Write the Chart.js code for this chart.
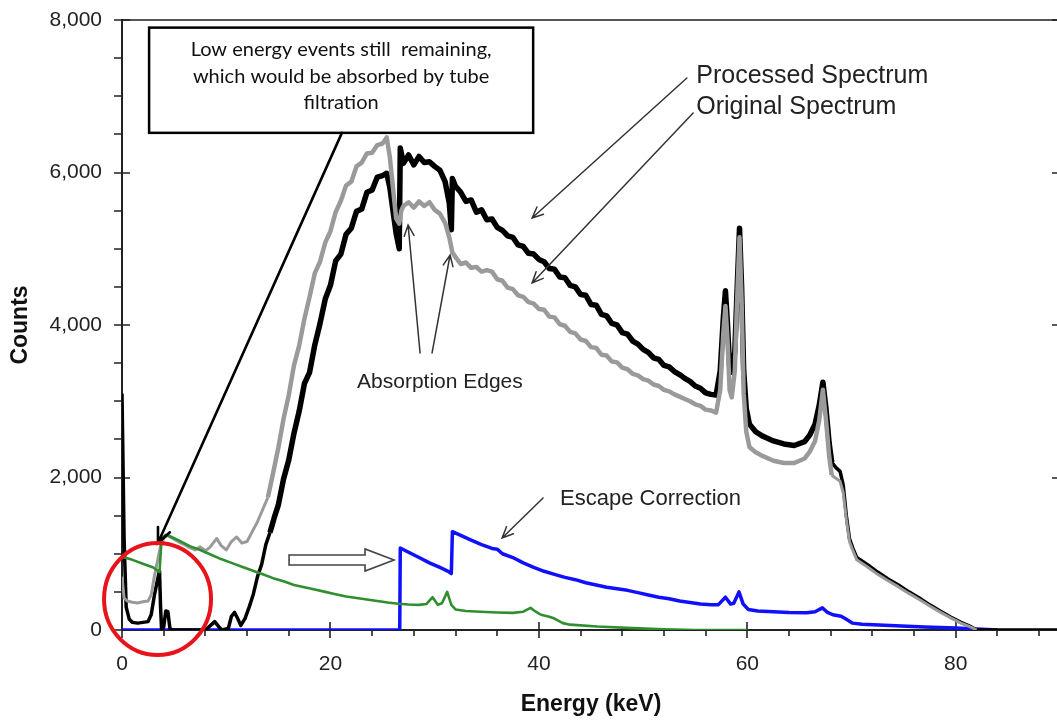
<!DOCTYPE html>
<html>
<head>
<meta charset="utf-8">
<title>Energy spectrum</title>
<script src="https://cdn.jsdelivr.net/npm/chart.js@4.4.1/dist/chart.umd.min.js"></script>
<style>
  html, body { margin: 0; padding: 0; background: #fff; overflow: hidden; }
  canvas { display: block; }
</style>
</head>
<body>
<canvas id="spectrumChart" width="1070" height="721"></canvas>
<script>
// --- SPECTRUM DATA (energy in keV, counts per channel) ---
const processedKeV = [0, 0.2, 0.4, 0.7, 1.0, 1.5, 2.0, 2.5, 2.8, 3.1, 3.4, 3.6, 3.7, 3.8, 4.0, 4.2, 4.4, 4.6, 4.8, 8.0, 8.5, 8.9, 9.3, 9.6, 10.2, 10.5, 10.8, 11.1, 11.4, 11.8, 12.2, 12.6, 13.0, 13.4, 13.8, 14.2, 14.6, 15.0, 15.5, 16.0, 16.5, 17.0, 17.5, 18.0, 18.5, 19.0, 19.5, 20.0, 20.5, 21.0, 21.5, 22.0, 22.5, 23.0, 23.5, 24.0, 24.5, 25.0, 25.4, 25.7, 26.0, 26.3, 26.6, 26.7, 27.0, 27.5, 28.0, 28.5, 29.0, 29.5, 30.0, 30.5, 31.0, 31.4, 31.6, 31.7, 32.0, 32.5, 33.0, 33.5, 34.0, 34.5, 35.0, 35.5, 36.0, 36.5, 37.0, 37.5, 38.0, 38.5, 39.0, 39.5, 40.0, 40.5, 41.0, 41.5, 42.0, 42.5, 43.0, 43.5, 44.0, 44.5, 45.0, 45.5, 46.0, 46.5, 47.0, 47.5, 48.0, 48.5, 49.0, 49.5, 50.0, 50.5, 51.0, 51.5, 52.0, 52.5, 53.0, 53.5, 54.0, 54.5, 55.0, 55.5, 56.0, 56.5, 57.0, 57.4, 57.7, 57.9, 58.1, 58.3, 58.5, 58.8, 59.0, 59.25, 59.45, 59.65, 59.9, 60.2, 60.8, 61.5, 62.5, 63.5, 64.5, 65.5, 66.0, 66.5, 66.9, 67.25, 67.55, 67.85, 68.1, 68.5, 68.9, 69.2, 69.5, 69.8, 70.1, 70.5, 71.5, 72.5, 73.5, 74.5, 75.5, 76.5, 77.5, 78.5, 79.5, 80.5, 81.5, 82.0, 90];
const processedCounts = [3100, 1200, 300, 140, 100, 90, 100, 110, 200, 450, 650, 780, 300, 0, 40, 250, 240, 20, 0, 0, 60, 110, 40, 0, 20, 180, 230, 150, 60, 150, 300, 470, 700, 860, 1120, 1280, 1470, 1640, 1980, 2230, 2580, 2870, 3230, 3380, 3740, 4020, 4340, 4520, 4840, 4930, 5190, 5270, 5490, 5520, 5740, 5770, 5940, 5960, 5990, 5800, 5500, 5200, 5000, 6320, 6120, 6230, 6100, 6210, 6130, 6140, 6080, 6030, 5880, 5600, 5250, 5920, 5820, 5740, 5620, 5640, 5480, 5510, 5380, 5390, 5280, 5240, 5170, 5150, 5050, 5030, 4940, 4930, 4860, 4830, 4740, 4730, 4630, 4620, 4520, 4500, 4400, 4390, 4270, 4260, 4140, 4120, 4020, 4000, 3900, 3880, 3790, 3750, 3680, 3640, 3570, 3550, 3470, 3450, 3390, 3350, 3300, 3260, 3200, 3170, 3110, 3090, 3080, 3400, 4100, 4450, 4000, 3450, 3380, 3650, 4400, 5270, 4500, 3400, 2900, 2700, 2600, 2540, 2480, 2440, 2420, 2470, 2560, 2700, 2950, 3250, 2900, 2450, 2200, 2130, 2080, 1900, 1500, 1200, 1080, 950, 860, 760, 670, 590, 500, 420, 330, 250, 170, 100, 40, 0, 0];

const originalKeV = [0, 0.2, 0.5, 1.0, 1.5, 2.0, 2.5, 2.8, 3.1, 3.4, 3.7, 4.0, 4.3, 4.6, 5.0, 5.5, 6.0, 6.5, 7.0, 7.5, 8.0, 8.4, 8.8, 9.1, 9.5, 10.0, 10.5, 11.0, 11.5, 12.0, 12.5, 13.0, 13.5, 14.0, 14.5, 15.0, 15.5, 16.0, 16.5, 17.0, 17.5, 18.0, 18.5, 19.0, 19.5, 20.0, 20.5, 21.0, 21.5, 22.0, 22.5, 23.0, 23.5, 24.0, 24.5, 25.0, 25.4, 25.7, 26.0, 26.3, 26.6, 26.8, 27.0, 27.5, 28.0, 28.5, 29.0, 29.5, 30.0, 30.5, 31.0, 31.4, 31.7, 32.0, 32.5, 33.0, 33.5, 34.0, 34.5, 35.0, 35.5, 36.0, 36.5, 37.0, 37.5, 38.0, 38.5, 39.0, 39.5, 40.0, 40.5, 41.0, 41.5, 42.0, 42.5, 43.0, 43.5, 44.0, 44.5, 45.0, 45.5, 46.0, 46.5, 47.0, 47.5, 48.0, 48.5, 49.0, 49.5, 50.0, 50.5, 51.0, 51.5, 52.0, 52.5, 53.0, 53.5, 54.0, 54.5, 55.0, 55.5, 56.0, 56.5, 57.0, 57.4, 57.7, 57.9, 58.1, 58.3, 58.5, 58.8, 59.0, 59.25, 59.45, 59.65, 59.9, 60.2, 60.8, 61.5, 62.5, 63.5, 64.5, 65.5, 66.0, 66.5, 66.9, 67.25, 67.55, 67.85, 68.1, 68.5, 68.9, 69.2, 69.5, 69.8, 70.1, 70.5, 71.5, 72.5, 73.5, 74.5, 75.5, 76.5, 77.5, 78.5, 79.5, 80.5, 81.5, 82.0];
const originalCounts = [700, 420, 380, 365, 355, 370, 380, 460, 700, 900, 1100, 1200, 1240, 1220, 1190, 1150, 1120, 1080, 1050, 1090, 1040, 1080, 1150, 1200, 1110, 1050, 1160, 1220, 1140, 1160, 1290, 1420, 1580, 1740, 2060, 2390, 2770, 3080, 3470, 3730, 4080, 4370, 4680, 4830, 5080, 5230, 5480, 5630, 5830, 5880, 6080, 6130, 6250, 6260, 6360, 6380, 6460, 6200, 5800, 5400, 5330, 5500, 5560, 5610, 5540, 5620, 5560, 5610, 5510, 5460, 5340, 5150, 4950, 4890, 4800, 4820, 4750, 4760, 4700, 4720, 4700, 4600, 4580, 4490, 4470, 4390, 4370, 4300, 4280, 4210, 4200, 4110, 4100, 4010, 3990, 3910, 3890, 3810, 3790, 3710, 3700, 3610, 3600, 3520, 3510, 3440, 3420, 3360, 3340, 3290, 3270, 3220, 3200, 3150, 3130, 3090, 3060, 3030, 3000, 2960, 2940, 2890, 2880, 2850, 3150, 3900, 4250, 3800, 3150, 3050, 3400, 4250, 5150, 4300, 3100, 2600, 2400, 2330, 2280, 2220, 2190, 2190, 2250, 2340, 2480, 2750, 3150, 2750, 2280, 2030, 1990, 1950, 1800, 1450, 1160, 1050, 920, 830, 730, 645, 565, 480, 400, 315, 235, 160, 90, 35, 0];

const escapeKeV = [0, 26.65, 26.7, 27.5, 28.5, 29.5, 30.5, 31.3, 31.6, 31.7, 32.5, 33.5, 34.5, 35.5, 36.0, 36.5, 37.5, 38.5, 39.5, 40.5, 41.5, 42.5, 43.5, 44.5, 45.5, 46.5, 47.5, 48.5, 49.5, 50.5, 51.5, 52.5, 53.5, 54.5, 55.5, 56.5, 57.2, 57.9, 58.4, 58.7, 59.2, 59.6, 60.1, 61.0, 62.5, 64.0, 65.7, 66.5, 67.2, 67.7, 68.2, 69.0, 69.5, 70.1, 71.0, 73.7, 77.0, 80.0, 83.0, 84.0];
const escapeCounts = [0, 0, 1075, 1020, 950, 880, 820, 770, 740, 1290, 1240, 1180, 1120, 1070, 1060, 1000, 950, 880, 820, 770, 730, 690, 660, 620, 590, 560, 540, 520, 490, 460, 430, 410, 380, 360, 340, 330, 330, 430, 340, 350, 500, 340, 270, 250, 240, 230, 225, 240, 290, 230, 200, 180, 140, 90, 75, 60, 40, 25, 5, 0];

const escapeSourceKeV = [0, 1.0, 2.0, 3.0, 3.6, 3.8, 4.2, 4.6, 5.5, 6.5, 7.5, 8.5, 9.5, 10.5, 11.5, 12.5, 13.5, 14.5, 15.5, 16.5, 17.5, 18.5, 19.5, 20.5, 21.5, 22.5, 23.5, 24.5, 25.5, 26.5, 27.5, 28.5, 29.2, 29.8, 30.3, 30.7, 31.2, 31.6, 32.0, 33.0, 34.4, 36.0, 37.5, 38.5, 39.2, 39.7, 40.2, 41.0, 41.5, 42.3, 43.0, 45.6, 49.0, 52.0, 55.0, 60.0];
const escapeSourceCounts = [960, 920, 870, 820, 760, 1200, 1250, 1230, 1170, 1100, 1050, 990, 930, 880, 830, 780, 730, 680, 640, 590, 560, 530, 500, 470, 440, 420, 400, 380, 360, 345, 335, 330, 340, 430, 330, 350, 500, 330, 270, 250, 240, 230, 225, 240, 290, 240, 200, 175, 150, 90, 70, 45, 25, 10, 0, 0];

// --- AXIS TICKS ---
const energyTicks = [0, 20, 40, 60, 80];
const countTicks = [0, 2000, 4000, 6000, 8000];
const energyMinorStep = 4;
const countMinorStep = 500;

// --- ANNOTATION TEXT ---
const noteLines = ['Low energy events still  remaining,', 'which would be absorbed by tube', 'filtration'];
const spectrumLabels = ['Processed Spectrum', 'Original Spectrum'];
const edgesLabel = 'Absorption Edges';
const escapeLabel = 'Escape Correction';

const toPoints = (xs, ys) => xs.map((x, i) => ({ x: x, y: ys[i] }));

const TICK_FONT = '"Liberation Sans", Arial, sans-serif';

// noisy middle part of the spectra is drawn as a wider band
const bandWidth = (wide, narrow) => c => {
    const e = c.p0.parsed.x;
    return (e >= 14 && e <= 68) ? wide : narrow;
};

// draws an open "V" arrow head line
function drawArrow(ctx, x1, y1, x2, y2, color, width, head) {
    const ang = Math.atan2(y2 - y1, x2 - x1);
    ctx.save();
    ctx.strokeStyle = color;
    ctx.lineWidth = width;
    ctx.lineCap = 'round';
    ctx.beginPath();
    ctx.moveTo(x1, y1);
    ctx.lineTo(x2, y2);
    ctx.moveTo(x2 - head * Math.cos(ang - 0.42), y2 - head * Math.sin(ang - 0.42));
    ctx.lineTo(x2, y2);
    ctx.lineTo(x2 - head * Math.cos(ang + 0.42), y2 - head * Math.sin(ang + 0.42));
    ctx.stroke();
    ctx.restore();
}

// axes frame with major/minor tick marks, drawn under the spectra
const framePlugin = {
    id: 'frame',
    beforeDatasetsDraw(chart) {
        const { ctx, chartArea: a, scales: { x, y } } = chart;
        ctx.save();
        ctx.lineCap = 'butt';
        // top and right border
        ctx.strokeStyle = '#555';
        ctx.lineWidth = 2;
        ctx.beginPath();
        ctx.moveTo(a.left, a.top);
        ctx.lineTo(a.right, a.top);
        ctx.lineTo(a.right, a.bottom);
        ctx.stroke();

        ctx.strokeStyle = '#222';
        ctx.beginPath();
        ctx.moveTo(a.left, a.top - 1);
        ctx.lineTo(a.left, a.bottom);
        ctx.lineTo(a.right, a.bottom);
        ctx.stroke();

        ctx.lineWidth = 1.6;
        ctx.beginPath();
        for (let v = 0; v <= 8000; v += countMinorStep) {
            const py = Math.round(y.getPixelForValue(v));
            if (countTicks.includes(v)) {
                ctx.moveTo(a.left - 8, py); ctx.lineTo(a.left + 8, py);
                ctx.moveTo(a.right - 8, py); ctx.lineTo(a.right, py);
            } else {
                ctx.moveTo(a.left - 8, py); ctx.lineTo(a.left, py);
            }
        }
        for (let v = 0; v <= 90; v += energyMinorStep) {
            const px = Math.round(x.getPixelForValue(v));
            if (energyTicks.includes(v)) {
                ctx.moveTo(px, a.bottom - 8); ctx.lineTo(px, a.bottom + 8);
            } else {
                ctx.moveTo(px, a.bottom); ctx.lineTo(px, a.bottom + 6);
            }
        }
        ctx.stroke();

        // axis titles
        ctx.fillStyle = '#111';
        ctx.font = 'bold 23px ' + TICK_FONT;
        ctx.textAlign = 'center';
        ctx.textBaseline = 'middle';
        ctx.fillText('Energy (keV)', x.getPixelForValue(45.0), 705);
        ctx.translate(21, y.getPixelForValue(4000));
        ctx.rotate(-Math.PI / 2);
        ctx.fillText('Counts', 0, 0);
        ctx.restore();
    }
};

// call-outs, arrows and the text box over the spectra
const notesPlugin = {
    id: 'notes',
    afterDatasetsDraw(chart) {
        const { ctx, scales: { x, y } } = chart;
        const px = v => x.getPixelForValue(v);
        const py = v => y.getPixelForValue(v);
        ctx.save();

        // text box
        const bx1 = px(2.6), bx2 = px(39.45), by1 = py(7900), by2 = py(6520);
        ctx.fillStyle = '#fff';
        ctx.fillRect(bx1, by1, bx2 - bx1, by2 - by1);
        ctx.strokeStyle = '#000';
        ctx.lineWidth = 2.5;
        ctx.strokeRect(bx1, by1, bx2 - bx1, by2 - by1);
        ctx.fillStyle = '#111';
        ctx.font = '20px Lato, "Open Sans", sans-serif';
        ctx.textAlign = 'center';
        ctx.textBaseline = 'middle';
        [7607, 7253, 6912].forEach((c, i) => ctx.fillText(noteLines[i], (bx1 + bx2) / 2, py(c)));

        // arrow from the box down to the low-energy events
        drawArrow(ctx, px(21.1), by2, px(3.45), py(1141), '#000', 2.6, 16);

        // red circle round the low-energy region
        ctx.strokeStyle = '#e8141b';
        ctx.lineWidth = 4;
        ctx.beginPath();
        ctx.ellipse(px(3.41), py(407), 53.5, 56, 0, 0, Math.PI * 2);
        ctx.stroke();

        // spectrum labels and their arrows
        ctx.fillStyle = '#222';
        ctx.textAlign = 'left';
        ctx.textBaseline = 'alphabetic';
        ctx.font = '25px ' + TICK_FONT;
        ctx.fillText(spectrumLabels[0], px(55.1), py(7174));
        ctx.fillText(spectrumLabels[1], px(55.1), py(6767));
        drawArrow(ctx, px(54.2), py(7240), px(39.35), py(5403), '#333', 1.5, 12);
        drawArrow(ctx, px(54.8), py(6780), px(39.35), py(4551), '#333', 1.5, 12);

        // absorption edges
        ctx.font = '21px ' + TICK_FONT;
        ctx.fillText(edgesLabel, px(22.55), py(3174));
        drawArrow(ctx, px(28.6), py(3633), px(27.45), py(5312), '#333', 1.5, 12);
        drawArrow(ctx, px(29.75), py(3633), px(31.48), py(4918), '#333', 1.5, 12);

        // escape correction
        ctx.font = '22px ' + TICK_FONT;
        ctx.fillText(escapeLabel, px(42.03), py(1639));
        drawArrow(ctx, px(40.4), py(1731), px(36.47), py(1207), '#333', 1.5, 12);

        // hollow block arrow pointing at the escape step
        const ax1 = px(16.03), ax2 = px(23.32), ax3 = px(26.1), ay = py(918);
        ctx.beginPath();
        ctx.moveTo(ax1, ay - 5);
        ctx.lineTo(ax2, ay - 5);
        ctx.lineTo(ax2, ay - 11);
        ctx.lineTo(ax3, ay);
        ctx.lineTo(ax2, ay + 11);
        ctx.lineTo(ax2, ay + 5);
        ctx.lineTo(ax1, ay + 5);
        ctx.closePath();
        ctx.fillStyle = '#fff';
        ctx.fill();
        ctx.strokeStyle = '#444';
        ctx.lineWidth = 1.6;
        ctx.stroke();
        ctx.restore();
    }
};

const ctx = document.getElementById('spectrumChart').getContext('2d');

new Chart(ctx, {
    type: 'line',
    data: {
        datasets: [
            {
                label: 'Escape source',
                data: toPoints(escapeSourceKeV, escapeSourceCounts),
                borderColor: '#2f8f2f',
                borderWidth: 2.6
            },
            {
                label: spectrumLabels[1],
                data: toPoints(originalKeV, originalCounts),
                borderColor: '#9a9a9a',
                borderWidth: 3.5,
                segment: { borderWidth: bandWidth(4.5, 3) }
            },
            {
                label: spectrumLabels[0],
                data: toPoints(processedKeV, processedCounts),
                borderColor: '#000',
                borderWidth: 4,
                segment: { borderWidth: bandWidth(5.5, 3.5) }
            },
            {
                label: escapeLabel,
                data: toPoints(escapeKeV, escapeCounts),
                borderColor: '#1010ff',
                borderWidth: 3.5
            }
        ]
    },
    options: {
        responsive: false,
        animation: false,
        elements: {
            point: { radius: 0 },
            line: { tension: 0, borderJoinStyle: 'round' }
        },
        layout: { padding: { left: 0, top: 20, right: 10, bottom: 0 } },
        plugins: {
            legend: { display: false },
            tooltip: { enabled: false }
        },
        scales: {
            x: {
                type: 'linear',
                min: 0,
                max: 90,
                grid: { display: false, drawTicks: false },
                border: { display: false },
                ticks: {
                    stepSize: 20,
                    padding: 22,
                    color: '#222',
                    font: { family: TICK_FONT, size: 21 },
                    maxRotation: 0,
                    callback: v => energyTicks.includes(v) ? String(v) : ''
                },
                afterFit: scale => {
                    scale.height = 91;
                    scale.paddingLeft = 0;
                    scale.paddingRight = 0;
                }
            },
            y: {
                min: 0,
                max: 8000,
                grid: { display: false, drawTicks: false },
                border: { display: false },
                ticks: {
                    stepSize: 2000,
                    padding: 20,
                    color: '#222',
                    font: { family: TICK_FONT, size: 21 },
                    callback: v => v.toLocaleString('en-US')
                },
                afterFit: scale => {
                    scale.width = 122;
                    scale.paddingTop = 0;
                    scale.paddingBottom = 0;
                }
            }
        }
    },
    plugins: [framePlugin, notesPlugin]
});
</script>
</body>
</html>
